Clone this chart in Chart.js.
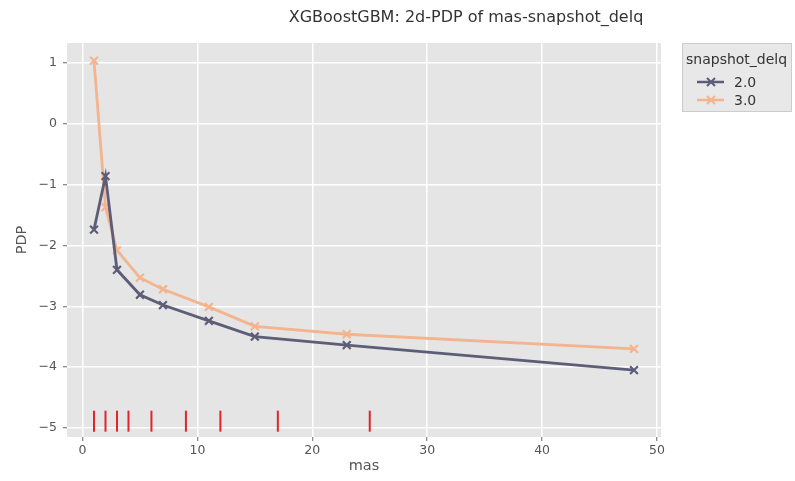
<!DOCTYPE html>
<html>
<head>
<meta charset="utf-8">
<script src="https://cdn.jsdelivr.net/npm/chart.js@4.4.1/dist/chart.umd.min.js"></script>
<style>
    html, body { margin: 0; padding: 0; background: #ffffff; }
    #wrap { width: 795px; height: 481px; }
</style>
</head>
<body>
<div id="wrap"><canvas id="pdpChart" width="795" height="481"></canvas></div>
<script>
    // values
    var masValues = [1, 2, 3, 5, 7, 11, 15, 23, 48];
    var pdpDelq2 = [-1.74, -0.86, -2.40, -2.81, -2.98, -3.24, -3.50, -3.64, -4.05];
    var pdpDelq3 = [1.04, -1.37, -2.08, -2.53, -2.72, -3.01, -3.33, -3.46, -3.70];
    var rugValues = [1, 2, 3, 4, 6, 9, 12, 17, 25];
    var xTicks = [0, 10, 20, 30, 40, 50];
    var yTicks = [-5, -4, -3, -2, -1, 0, 1];
    var seriesLabels = ['2.0', '3.0'];

    var darkColor = '#5d5d78';
    var peachColor = '#f3b48e';
    var rugColor = '#e3242b';

    function toPoints(xs, ys) {
        return xs.map(function (x, i) { return { x: x, y: ys[i] }; });
    }

    // gray panel behind the plot
    var panelPlugin = {
        id: 'panel',
        beforeDraw: function (chart) {
            var a = chart.chartArea;
            var ctx = chart.ctx;
            ctx.save();
            ctx.fillStyle = '#e5e5e5';
            ctx.fillRect(a.left, a.top, a.right - a.left, a.bottom - a.top);
            ctx.restore();
        }
    };

    // title and the legend box at the right
    var decorPlugin = {
        id: 'decor',
        afterDraw: function (chart) {
            var ctx = chart.ctx;
            ctx.save();
            ctx.fillStyle = '#333333';
            ctx.font = '16px "DejaVu Sans"';
            ctx.textAlign = 'center';
            ctx.textBaseline = 'middle';
            ctx.fillText('XGBoostGBM: 2d-PDP of mas-snapshot_delq', 466, 18);

            // legend
            ctx.fillStyle = '#e8e8e8';
            ctx.strokeStyle = '#cccccc';
            ctx.lineWidth = 1;
            ctx.fillRect(682.5, 43.5, 109, 68);
            ctx.strokeRect(682.5, 43.5, 109, 68);
            ctx.fillStyle = '#333333';
            ctx.font = '14px "DejaVu Sans"';
            ctx.textAlign = 'left';
            ctx.fillText('snapshot_delq', 686, 60);

            var colors = [darkColor, peachColor];
            seriesLabels.forEach(function (lab, i) {
                var y = 82 + i * 18;
                ctx.strokeStyle = colors[i];
                ctx.lineWidth = 2.5;
                ctx.beginPath();
                ctx.moveTo(697, y);
                ctx.lineTo(724, y);
                ctx.stroke();
                ctx.lineWidth = 2;
                ctx.beginPath();
                ctx.moveTo(707, y - 4); ctx.lineTo(715, y + 4);
                ctx.moveTo(715, y - 4); ctx.lineTo(707, y + 4);
                ctx.stroke();
                ctx.fillStyle = '#333333';
                ctx.fillText(lab, 734, y + 1);
            });
            ctx.restore();
        }
    };

    var lineDataset = function (label, ys, color) {
        return {
            label: label,
            data: toPoints(masValues, ys),
            showLine: true,
            borderColor: color,
            backgroundColor: color,
            borderWidth: 2.8,
            pointStyle: 'crossRot',
            pointRadius: 5.5,
            pointBorderWidth: 2.2,
            pointHoverRadius: 5.5,
            tension: 0
        };
    };

    var tickFont = { family: 'DejaVu Sans', size: 12.5 };
    var titleFont = { family: 'DejaVu Sans', size: 14.5 };

    new Chart(document.getElementById('pdpChart'), {
        type: 'scatter',
        data: {
            datasets: [
                lineDataset(seriesLabels[0], pdpDelq2, darkColor),
                lineDataset(seriesLabels[1], pdpDelq3, peachColor),
                {
                    label: 'rug',
                    data: rugValues.map(function (v) { return { x: v, y: -4.89 }; }),
                    showLine: false,
                    pointStyle: 'line',
                    rotation: 90,
                    pointRadius: 10.5,
                    pointBorderWidth: 2,
                    borderColor: rugColor,
                    backgroundColor: rugColor
                }
            ]
        },
        options: {
            responsive: false,
            animation: false,
            layout: { padding: { left: 0, top: 43, right: 134, bottom: 0 } },
            plugins: {
                legend: { display: false },
                title: { display: false },
                tooltip: { enabled: false }
            },
            scales: {
                x: {
                    type: 'linear',
                    min: -1.35,
                    max: 50.35,
                    afterFit: function (scale) { scale.height = 44; },
                    afterBuildTicks: function (scale) {
                        scale.ticks = xTicks.map(function (v) { return { value: v }; });
                    },
                    grid: { color: '#ffffff', lineWidth: 1.5, tickColor: '#666666', tickLength: 4, tickWidth: 1 },
                    border: { display: false },
                    ticks: { color: '#555555', font: tickFont, padding: 2, maxRotation: 0 },
                    title: { display: true, text: 'mas', color: '#555555', font: titleFont, padding: { bottom: 6 } }
                },
                y: {
                    type: 'linear',
                    min: -5.15,
                    max: 1.33,
                    afterFit: function (scale) { scale.width = 67; },
                    afterBuildTicks: function (scale) {
                        scale.ticks = yTicks.map(function (v) { return { value: v }; });
                    },
                    grid: { color: '#ffffff', lineWidth: 1.5, tickColor: '#666666', tickLength: 4, tickWidth: 1 },
                    border: { display: false },
                    ticks: {
                        color: '#555555',
                        font: tickFont,
                        padding: 6,
                        callback: function (v) { return String(v).replace('-', '\u2212'); }
                    },
                    title: { display: true, text: 'PDP', color: '#555555', font: titleFont, padding: { top: 14 } }
                }
            }
        },
        plugins: [panelPlugin, decorPlugin]
    });
</script>
</body>
</html>
